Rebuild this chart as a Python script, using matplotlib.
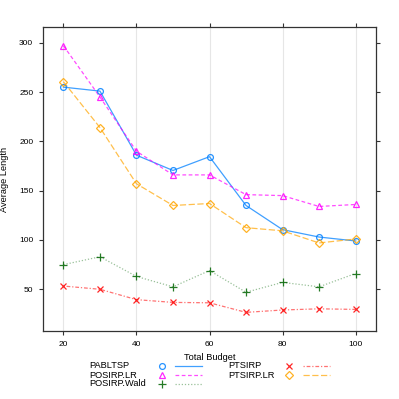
import matplotlib
matplotlib.use("Agg")
import matplotlib.pyplot as plt
from matplotlib.lines import Line2D

plt.rcParams['font.family'] = ['Liberation Sans', 'DejaVu Sans']

budget = [20, 30, 40, 50, 60, 70, 80, 90, 100]
series_names = ["PABLTSP", "POSIRP.LR", "POSIRP.Wald", "PTSIRP", "PTSIRP.LR"]
pabltsp = [255, 251, 186, 170.5, 184.5, 135, 110.5, 103, 99]
posirp_lr = [297, 245, 190, 166, 166, 146, 145, 134, 136]
posirp_wald = [75, 83, 63, 52.5, 69, 47, 57, 52.5, 66]
ptsirp = [53.3, 50, 39.5, 36.7, 36.3, 26.6, 29, 30.2, 29.6]
ptsirp_lr = [260.5, 214, 157, 135, 137, 112.5, 109.3, 97, 101]
x_ticks = [20, 40, 60, 80, 100]
y_ticks = [50, 100, 150, 200, 250, 300]

values = [pabltsp, posirp_lr, posirp_wald, ptsirp, ptsirp_lr]
colors = ["#0080ff", "#ff00ff", "#006400", "#ff0000", "#ffa500"]
markers = ["o", "^", "+", "x", "D"]
msizes = [4.2, 4.6, 6.0, 5.0, 4.4]
linestyles = ["-", (0, (3, 2)), (0, (1, 1.5)), (0, (1, 1.5, 3, 1.5)), (0, (5, 2))]
line_alpha = [0.75, 0.7, 0.4, 0.55, 0.7]

W = H = 399
fig = plt.figure(figsize=(3.99, 3.99), dpi=100)
ax = fig.add_axes([43/W, 1-331/H, (376-43)/W, (331-27)/H])

for xv in x_ticks:
    ax.axvline(xv, color="#e6e6e6", lw=0.8, zorder=0)

for name, vals, c, m, ms, ls, la in zip(series_names, values, colors, markers,
                                         msizes, linestyles, line_alpha):
    ax.plot(budget, vals, color=c, lw=0.9, ls=ls, alpha=la, zorder=2)
    ax.plot(budget, vals, ls="none", marker=m, ms=ms, mfc="none",
            mec=c, mew=0.9, alpha=0.85, zorder=3)

ax.set_xlim(14.4, 105.6)
ax.set_ylim(7.7, 316)
ax.set_xticks(x_ticks)
ax.set_yticks(y_ticks)
ax.tick_params(axis="both", which="both", direction="out", length=3, width=0.8,
               color="#333333", labelsize=6.0, labelcolor="#000000", pad=4.0,
               top=True, right=True, labeltop=False, labelright=False)
for s in ax.spines.values():
    s.set_color("#333333")
    s.set_linewidth(0.9)

ax.set_ylabel("Average Length", fontsize=6.7)
ax.yaxis.set_label_coords((8.7-43)/(376-43), 0.5)
fig.text((43+376)/2/W, 1-358/H, "Total Budget", fontsize=6.7,
         ha="center", va="center")

# manual lattice-style key: text | marker | line
col_text_x = [89, 228]
col_marker_x = [161.7, 289.3]
col_line_x = [(175, 201.7), (302.7, 330)]
row_y = [366, 375, 384]
for i, (name, c, m, ms, ls, la) in enumerate(zip(series_names, colors, markers,
                                                  msizes, linestyles, line_alpha)):
    col, row = (0, i) if i < 3 else (1, i - 3)
    yy = 1 - row_y[row]/H
    fig.text(col_text_x[col]/W, yy, name, fontsize=6.7, ha="left", va="center")
    fig.add_artist(Line2D([col_marker_x[col]/W], [yy], ls="none", marker=m, ms=ms,
                          mfc="none", mec=c, mew=0.9, alpha=0.85,
                          transform=fig.transFigure))
    x0, x1 = col_line_x[col]
    fig.add_artist(Line2D([x0/W, x1/W], [yy, yy], color=c, lw=0.9, ls=ls, alpha=la,
                          transform=fig.transFigure))

fig.savefig("out.png", dpi=100)
